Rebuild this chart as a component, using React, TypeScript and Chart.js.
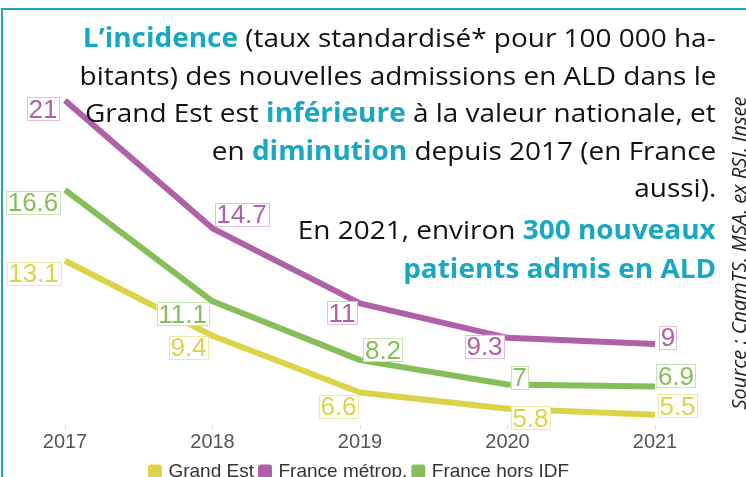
import React, { useEffect, useRef } from "react";
import { Chart, registerables } from "chart.js";

Chart.register(...registerables);

const YEARS = ["2017", "2018", "2019", "2020", "2021"];
const SERIES_NAMES = ["Grand Est", "France métrop.", "France hors IDF"];
const GRAND_EST = [13.1, 9.4, 6.6, 5.8, 5.5];
const FRANCE_METROP = [21, 14.7, 11, 9.3, 9];
const FRANCE_HORS_IDF = [16.6, 11.1, 8.2, 7, 6.9];

const LINE_COLORS = ["rgb(220,212,72)", "rgb(176,96,166)", "rgb(134,191,90)"];
const LABEL_BORDERS = ["rgb(236,232,170)", "rgb(224,190,220)", "rgb(200,228,178)"];
// label box centre offsets from each point (dx, dy)
const LABEL_OFFSETS = [
  [[-31.5, 12.5], [-24, 11.5], [-21.5, 13.5], [23, 9], [22.5, -9]],
  [[-22, 8], [29, -14], [-18, 9.5], [-23, 8.5], [13, -6.5]],
  [[-32, 12.5], [-30, 12.5], [23, -10.5], [12, -7], [21, -10.5]],
];

const CYAN = "#19a8c2";

const labelPlugin = {
  id: "boxLabels",
  afterDatasetsDraw(chart: any) {
    const ctx = chart.ctx;
    ctx.save();
    ctx.font = "26px 'Liberation Sans', Arial, sans-serif";
    ctx.textAlign = "center";
    ctx.textBaseline = "alphabetic";
    chart.data.datasets.forEach((ds: any, i: number) => {
      const meta = chart.getDatasetMeta(i);
      meta.data.forEach((pt: any, j: number) => {
        const text = String(ds.data[j]);
        const [dx, dy] = LABEL_OFFSETS[i][j];
        const cx = pt.x + dx;
        const cy = pt.y + dy;
        const m = ctx.measureText(text);
        const asc = m.actualBoundingBoxAscent;
        const w = m.width + 3;
        const h = asc + 5;
        ctx.fillStyle = "#fff";
        ctx.fillRect(cx - w / 2, cy - h / 2, w, h);
        ctx.strokeStyle = LABEL_BORDERS[i];
        ctx.lineWidth = 1;
        ctx.strokeRect(Math.round(cx - w / 2) + 0.5, Math.round(cy - h / 2) + 0.5, Math.round(w), Math.round(h));
        ctx.fillStyle = LINE_COLORS[i];
        ctx.fillText(text, cx, cy + asc / 2);
      });
    });
    ctx.restore();
  },
};

function LineChart() {
  const ref = useRef<HTMLCanvasElement>(null);
  useEffect(() => {
    const values = [GRAND_EST, FRANCE_METROP, FRANCE_HORS_IDF];
    const chart = new Chart(ref.current!, {
      type: "line",
      data: {
        labels: YEARS,
        datasets: values.map((v, i) => ({
          label: SERIES_NAMES[i],
          data: v,
          borderColor: LINE_COLORS[i],
          backgroundColor: LINE_COLORS[i],
          borderWidth: 6,
          pointRadius: 0,
          tension: 0,
          clip: false,
          borderCapStyle: "butt",
          borderJoinStyle: "round",
        })),
      },
      options: {
        responsive: false,
        animation: false,
        layout: { padding: { left: 65, right: 91, top: 60, bottom: 0 } },
        scales: {
          x: {
            offset: false,
            grid: { display: true, drawOnChartArea: false, drawTicks: true, tickLength: 4, tickColor: "#d8d8d8" },
            border: { display: false },
            ticks: { color: "#555", font: { family: "'Liberation Sans', Arial, sans-serif", size: 20 }, padding: 1 },
          },
          y: { display: false, min: 5, max: 23 },
        },
        plugins: {
          legend: {
            position: "bottom",
            labels: {
              boxWidth: 8,
              boxHeight: 8,
              padding: 7,
              color: "#333",
              font: { family: "'Liberation Sans', Arial, sans-serif", size: 19 },
            },
          },
          tooltip: { enabled: false },
        },
      },
      plugins: [labelPlugin],
    });
    return () => chart.destroy();
  }, []);
  return <canvas ref={ref} width={746} height={491} style={{ position: "absolute", left: 0, top: 0 }} />;
}

const titleFont = "'Open Sans', 'Noto Sans', sans-serif";
const B = ({ children }: { children: React.ReactNode }) => (
  <span style={{ color: CYAN, fontWeight: 700 }}>{children}</span>
);

const LINES: { y: number; content: React.ReactNode }[] = [
  { y: 37, content: <><B>L’incidence</B> (taux standardisé* pour 100 000 ha-</> },
  { y: 75, content: <>bitants) des nouvelles admissions en ALD dans le</> },
  { y: 112, content: <>Grand Est est <B>inférieure</B> à la valeur nationale, et</> },
  { y: 150, content: <>en <B>diminution</B> depuis 2017 (en France</> },
  { y: 187, content: <>aussi).</> },
  { y: 229, content: <>En 2021, environ <B>300 nouveaux</B></> },
  { y: 268, content: <><B>patients admis en ALD</B></> },
];

export default function App() {
  return (
    <div style={{ position: "relative", width: 746, height: 477, overflow: "hidden", background: "#fff" }}>
      <style>{`html,body{margin:0;padding:0;overflow:hidden;background:#fff}`}</style>
      <LineChart />
      <div
        style={{
          position: "absolute",
          left: 1,
          top: 8,
          right: 0,
          height: 500,
          borderTop: `2px solid ${CYAN}`,
          borderLeft: `2px solid ${CYAN}`,
          pointerEvents: "none",
        }}
      />
      {LINES.map((l, i) => (
        <div
          key={i}
          style={{
            position: "absolute",
            right: 30,
            top: l.y - 18,
            height: 36,
            lineHeight: "36px",
            fontFamily: titleFont,
            fontSize: 26,
            color: "#111",
            whiteSpace: "nowrap",
            textAlign: "right",
            transform: "scaleX(1.075)",
            transformOrigin: "right center",
          }}
        >
          {l.content}
        </div>
      ))}
      <div
        style={{
          position: "absolute",
          left: 738,
          top: 253,
          transform: "translate(-50%, -50%) rotate(-90deg)",
          fontFamily: titleFont,
          fontStyle: "italic",
          fontSize: 20,
          color: "#222",
          whiteSpace: "nowrap",
        }}
      >
        Source : CnamTS, MSA, ex RSI, Insee
      </div>
    </div>
  );
}
